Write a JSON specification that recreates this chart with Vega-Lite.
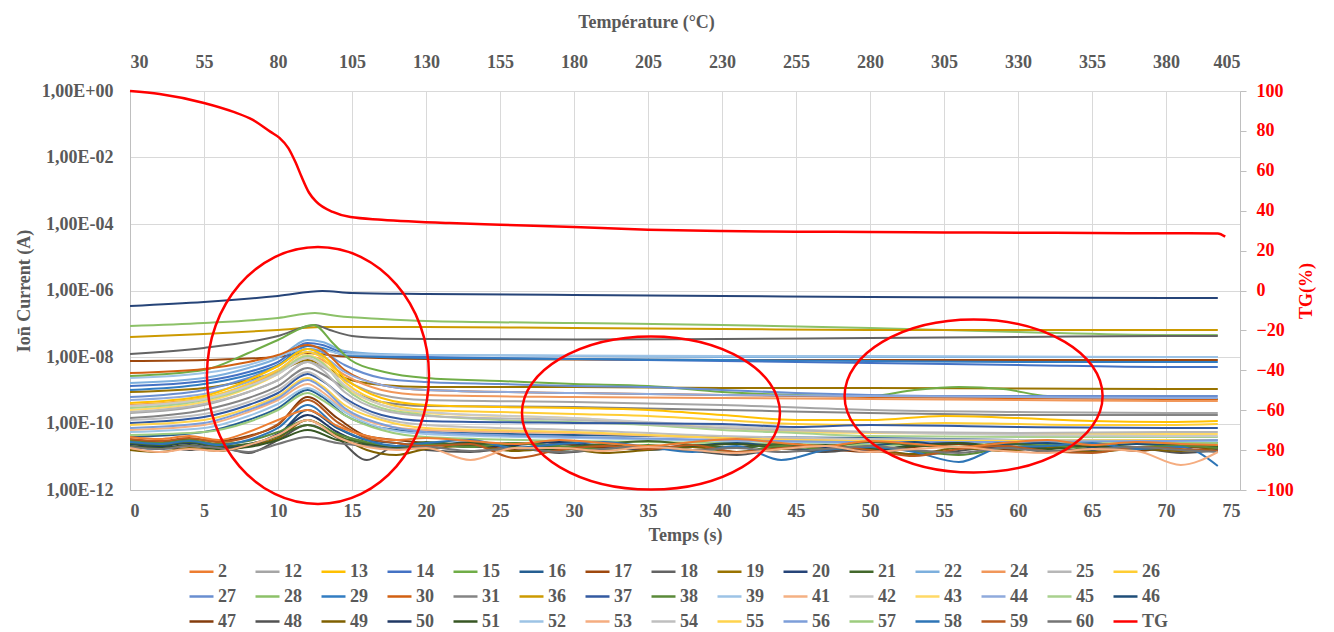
{
"$schema":"https://vega.github.io/schema/vega-lite/v6.json",
"autosize":{"type":"none"},
"width":1110,"height":399,
"padding":{"left":130,"top":91,"right":94,"bottom":142},
"background":"white",
"config":{"font":"Liberation Serif","view":{"stroke":null},
"axis":{"labelFont":"Liberation Serif","labelFontWeight":"bold","labelFontSize":18,"labelColor":"#595959","titleFont":"Liberation Serif","titleFontWeight":"bold","titleFontSize":18,"titleColor":"#595959","gridColor":"#D9D9D9","gridWidth":1,"domainColor":"#BFBFBF","tickColor":"#BFBFBF"}},
"datasets":{
"ions":[
{"s":"20","t":0,"v":3.42e-7},{"s":"20","t":5,"v":4.51e-7},{"s":"20","t":10,"v":6.84e-7},{"s":"20","t":13,"v":9.66e-7},{"s":"20","t":15,"v":8.41e-7},{"s":"20","t":20,"v":7.85e-7},{"s":"20","t":30,"v":7.33e-7},{"s":"20","t":40,"v":6.84e-7},{"s":"20","t":50,"v":6.38e-7},{"s":"20","t":60,"v":6.16e-7},{"s":"20","t":70,"v":5.95e-7},{"s":"20","t":73.5,"v":5.95e-7},
{"s":"28","t":0,"v":8.55e-8},{"s":"28","t":5,"v":1.05e-7},{"s":"28","t":10,"v":1.49e-7},{"s":"28","t":12.5,"v":2.1e-7},{"s":"28","t":14,"v":1.71e-7},{"s":"28","t":17,"v":1.39e-7},{"s":"28","t":20,"v":1.21e-7},{"s":"28","t":30,"v":1.05e-7},{"s":"28","t":40,"v":9.17e-8},{"s":"28","t":50,"v":7.45e-8},{"s":"28","t":60,"v":5.65e-8},{"s":"28","t":70,"v":4.59e-8},{"s":"28","t":73.5,"v":4.59e-8},
{"s":"36","t":0,"v":4.0e-8},{"s":"36","t":5,"v":4.92e-8},{"s":"36","t":10,"v":6.49e-8},{"s":"36","t":13,"v":7.98e-8},{"s":"36","t":20,"v":7.98e-8},{"s":"36","t":30,"v":7.45e-8},{"s":"36","t":40,"v":6.95e-8},{"s":"36","t":50,"v":6.49e-8},{"s":"36","t":60,"v":6.49e-8},{"s":"36","t":70,"v":6.49e-8},{"s":"36","t":73.5,"v":6.49e-8},
{"s":"18","t":0,"v":1.23e-8},{"s":"18","t":5,"v":1.87e-8},{"s":"18","t":10,"v":4.28e-8},{"s":"18","t":12.5,"v":9.17e-8},{"s":"18","t":13.5,"v":6.49e-8},{"s":"18","t":15,"v":4.28e-8},{"s":"18","t":17,"v":3.73e-8},{"s":"18","t":20,"v":3.48e-8},{"s":"18","t":30,"v":3.36e-8},{"s":"18","t":40,"v":3.48e-8},{"s":"18","t":50,"v":3.73e-8},{"s":"18","t":60,"v":4.0e-8},{"s":"18","t":70,"v":4.28e-8},{"s":"18","t":73.5,"v":4.28e-8},
{"s":"17","t":0,"v":7.58e-9},{"s":"17","t":5,"v":8.13e-9},{"s":"17","t":10,"v":1.0e-8},{"s":"17","t":12,"v":1.32e-8},{"s":"17","t":14,"v":1.07e-8},{"s":"17","t":20,"v":8.71e-9},{"s":"17","t":30,"v":8.41e-9},{"s":"17","t":40,"v":8.13e-9},{"s":"17","t":50,"v":8.13e-9},{"s":"17","t":60,"v":8.13e-9},{"s":"17","t":70,"v":8.13e-9},{"s":"17","t":73.5,"v":8.13e-9},
{"s":"22","t":0,"v":1.65e-9},{"s":"22","t":5,"v":2.34e-9},{"s":"22","t":8,"v":4.67e-9},{"s":"22","t":10,"v":9.33e-9},{"s":"22","t":12,"v":3.25e-8},{"s":"22","t":13,"v":2.83e-8},{"s":"22","t":14.5,"v":1.52e-8},{"s":"22","t":17,"v":1.23e-8},{"s":"22","t":20,"v":1.15e-8},{"s":"22","t":30,"v":1.07e-8},{"s":"22","t":40,"v":1.0e-8},{"s":"22","t":50,"v":1.0e-8},{"s":"22","t":60,"v":1.0e-8},{"s":"22","t":70,"v":1.0e-8},{"s":"22","t":73.5,"v":1.0e-8},
{"s":"14","t":0,"v":1.34e-9},{"s":"14","t":5,"v":1.9e-9},{"s":"14","t":8,"v":3.54e-9},{"s":"14","t":10,"v":7.08e-9},{"s":"14","t":12,"v":2.64e-8},{"s":"14","t":13,"v":2.3e-8},{"s":"14","t":14.5,"v":1.32e-8},{"s":"14","t":17,"v":1.07e-8},{"s":"14","t":20,"v":1.0e-8},{"s":"14","t":30,"v":8.71e-9},{"s":"14","t":40,"v":7.58e-9},{"s":"14","t":50,"v":6.61e-9},{"s":"14","t":60,"v":5.75e-9},{"s":"14","t":70,"v":5.0e-9},{"s":"14","t":73.5,"v":5.0e-9},
{"s":"29","t":0,"v":1.02e-9},{"s":"29","t":5,"v":1.54e-9},{"s":"29","t":8,"v":2.88e-9},{"s":"29","t":10,"v":5.75e-9},{"s":"29","t":12,"v":2.14e-8},{"s":"29","t":13,"v":1.87e-8},{"s":"29","t":14.5,"v":1.15e-8},{"s":"29","t":17,"v":1.0e-8},{"s":"29","t":20,"v":9.33e-9},{"s":"29","t":30,"v":8.71e-9},{"s":"29","t":40,"v":8.13e-9},{"s":"29","t":50,"v":7.58e-9},{"s":"29","t":60,"v":7.08e-9},{"s":"29","t":70,"v":7.08e-9},{"s":"29","t":73.5,"v":7.08e-9},
{"s":"39","t":0,"v":2.34e-9},{"s":"39","t":5,"v":3.3e-9},{"s":"39","t":8,"v":5.75e-9},{"s":"39","t":10,"v":1.07e-8},{"s":"39","t":12,"v":1.74e-8},{"s":"39","t":13,"v":1.63e-8},{"s":"39","t":14.5,"v":1.23e-8},{"s":"39","t":20,"v":1.15e-8},{"s":"39","t":30,"v":1.11e-8},{"s":"39","t":40,"v":1.07e-8},{"s":"39","t":50,"v":1.07e-8},{"s":"39","t":60,"v":1.04e-8},{"s":"39","t":70,"v":1.0e-8},{"s":"39","t":73.5,"v":1.0e-8},
{"s":"19","t":0,"v":8.86e-10},{"s":"19","t":5,"v":1.17e-9},{"s":"19","t":8,"v":2.03e-9},{"s":"19","t":10,"v":3.54e-9},{"s":"19","t":12,"v":8.13e-9},{"s":"19","t":13,"v":5.75e-9},{"s":"19","t":14.5,"v":2.34e-9},{"s":"19","t":17,"v":1.44e-9},{"s":"19","t":20,"v":1.25e-9},{"s":"19","t":30,"v":1.25e-9},{"s":"19","t":40,"v":1.17e-9},{"s":"19","t":50,"v":1.17e-9},{"s":"19","t":60,"v":1.13e-9},{"s":"19","t":70,"v":1.09e-9},{"s":"19","t":73.5,"v":1.09e-9},
{"s":"15","t":0,"v":2.69e-9},{"s":"15","t":5,"v":4.07e-9},{"s":"15","t":8,"v":1.32e-8},{"s":"15","t":10,"v":3.25e-8},{"s":"15","t":12.4,"v":9.17e-8},{"s":"15","t":13.7,"v":2.64e-8},{"s":"15","t":14.9,"v":8.13e-9},{"s":"15","t":17.2,"v":3.54e-9},{"s":"15","t":20,"v":2.34e-9},{"s":"15","t":25,"v":1.9e-9},{"s":"15","t":30,"v":1.54e-9},{"s":"15","t":35,"v":1.34e-9},{"s":"15","t":40,"v":8.86e-10},{"s":"15","t":45,"v":7.19e-10},{"s":"15","t":50,"v":6.71e-10},{"s":"15","t":53,"v":1.02e-9},{"s":"15","t":56,"v":1.25e-9},{"s":"15","t":59,"v":1.09e-9},{"s":"15","t":62,"v":6.71e-10},{"s":"15","t":66,"v":6.26e-10},{"s":"15","t":70,"v":5.85e-10},{"s":"15","t":73.5,"v":5.46e-10},
{"s":"27","t":0,"v":6.26e-10},{"s":"27","t":5,"v":1.02e-9},{"s":"27","t":8,"v":2.34e-9},{"s":"27","t":10,"v":5.36e-9},{"s":"27","t":12,"v":1.74e-8},{"s":"27","t":13,"v":1.41e-8},{"s":"27","t":14.5,"v":5.75e-9},{"s":"27","t":17,"v":2.34e-9},{"s":"27","t":20,"v":1.77e-9},{"s":"27","t":25,"v":1.54e-9},{"s":"27","t":30,"v":1.34e-9},{"s":"27","t":35,"v":1.25e-9},{"s":"27","t":40,"v":1.02e-9},{"s":"27","t":45,"v":8.27e-10},{"s":"27","t":50,"v":7.19e-10},{"s":"27","t":55,"v":6.71e-10},{"s":"27","t":60,"v":6.71e-10},{"s":"27","t":65,"v":6.71e-10},{"s":"27","t":70,"v":6.71e-10},{"s":"27","t":73.5,"v":6.71e-10},
{"s":"30","t":0,"v":3.3e-9},{"s":"30","t":5,"v":4.36e-9},{"s":"30","t":8,"v":7.08e-9},{"s":"30","t":10,"v":1.15e-8},{"s":"30","t":12,"v":2.3e-8},{"s":"30","t":13,"v":1.63e-8},{"s":"30","t":14.5,"v":4.07e-9},{"s":"30","t":17,"v":1.44e-9},{"s":"30","t":20,"v":1.02e-9},{"s":"30","t":30,"v":8.27e-10},{"s":"30","t":40,"v":7.19e-10},{"s":"30","t":50,"v":6.26e-10},{"s":"30","t":60,"v":5.85e-10},{"s":"30","t":70,"v":5.46e-10},{"s":"30","t":73.5,"v":5.46e-10},
{"s":"24","t":0,"v":3.6e-10},{"s":"24","t":5,"v":5.85e-10},{"s":"24","t":8,"v":1.44e-9},{"s":"24","t":10,"v":3.54e-9},{"s":"24","t":12,"v":1.07e-8},{"s":"24","t":13,"v":8.13e-9},{"s":"24","t":14.5,"v":2.88e-9},{"s":"24","t":17,"v":1.02e-9},{"s":"24","t":20,"v":7.19e-10},{"s":"24","t":30,"v":6.26e-10},{"s":"24","t":40,"v":5.85e-10},{"s":"24","t":50,"v":5.46e-10},{"s":"24","t":60,"v":5.09e-10},{"s":"24","t":70,"v":4.75e-10},{"s":"24","t":73.5,"v":4.75e-10},
{"s":"44","t":0,"v":5.09e-10},{"s":"44","t":5,"v":7.71e-10},{"s":"44","t":8,"v":1.77e-9},{"s":"44","t":10,"v":4.07e-9},{"s":"44","t":12,"v":1.41e-8},{"s":"44","t":13,"v":1.07e-8},{"s":"44","t":14.5,"v":3.54e-9},{"s":"44","t":17,"v":1.44e-9},{"s":"44","t":20,"v":1.02e-9},{"s":"44","t":30,"v":8.27e-10},{"s":"44","t":40,"v":7.19e-10},{"s":"44","t":50,"v":6.71e-10},{"s":"44","t":60,"v":6.26e-10},{"s":"44","t":70,"v":5.85e-10},{"s":"44","t":73.5,"v":5.85e-10},
{"s":"12","t":0,"v":2.07e-10},{"s":"12","t":5,"v":3.6e-10},{"s":"12","t":8,"v":8.86e-10},{"s":"12","t":10,"v":2.03e-9},{"s":"12","t":12,"v":7.08e-9},{"s":"12","t":13,"v":5.0e-9},{"s":"12","t":14.5,"v":2.03e-9},{"s":"12","t":17,"v":7.19e-10},{"s":"12","t":20,"v":5.09e-10},{"s":"12","t":30,"v":4.43e-10},{"s":"12","t":40,"v":3.6e-10},{"s":"12","t":50,"v":2.55e-10},{"s":"12","t":60,"v":2.22e-10},{"s":"12","t":70,"v":2.07e-10},{"s":"12","t":73.5,"v":2.07e-10},
{"s":"31","t":0,"v":1.46e-10},{"s":"31","t":5,"v":2.55e-10},{"s":"31","t":8,"v":5.85e-10},{"s":"31","t":10,"v":1.34e-9},{"s":"31","t":12,"v":4.67e-9},{"s":"31","t":13,"v":3.08e-9},{"s":"31","t":14.5,"v":1.17e-9},{"s":"31","t":17,"v":4.43e-10},{"s":"31","t":20,"v":3.36e-10},{"s":"31","t":30,"v":3.13e-10},{"s":"31","t":40,"v":2.55e-10},{"s":"31","t":50,"v":2.07e-10},{"s":"31","t":60,"v":1.8e-10},{"s":"31","t":70,"v":1.8e-10},{"s":"31","t":73.5,"v":1.8e-10},
{"s":"13","t":0,"v":4.14e-10},{"s":"13","t":5,"v":6.71e-10},{"s":"13","t":8,"v":2.03e-9},{"s":"13","t":10,"v":5.36e-9},{"s":"13","t":12,"v":1.74e-8},{"s":"13","t":13,"v":1.15e-8},{"s":"13","t":14.5,"v":2.34e-9},{"s":"13","t":17,"v":5.85e-10},{"s":"13","t":20,"v":3.6e-10},{"s":"13","t":25,"v":3.13e-10},{"s":"13","t":30,"v":2.92e-10},{"s":"13","t":35,"v":2.55e-10},{"s":"13","t":40,"v":1.8e-10},{"s":"13","t":45,"v":1.27e-10},{"s":"13","t":50,"v":1.27e-10},{"s":"13","t":55,"v":1.68e-10},{"s":"13","t":60,"v":1.46e-10},{"s":"13","t":65,"v":1.19e-10},{"s":"13","t":70,"v":1.11e-10},{"s":"13","t":73.5,"v":1.19e-10},
{"s":"26","t":0,"v":3.36e-10},{"s":"26","t":5,"v":5.85e-10},{"s":"26","t":8,"v":1.54e-9},{"s":"26","t":10,"v":4.07e-9},{"s":"26","t":12,"v":1.41e-8},{"s":"26","t":13,"v":9.33e-9},{"s":"26","t":14.5,"v":1.77e-9},{"s":"26","t":17,"v":4.43e-10},{"s":"26","t":20,"v":2.55e-10},{"s":"26","t":25,"v":2.22e-10},{"s":"26","t":30,"v":1.93e-10},{"s":"26","t":35,"v":1.68e-10},{"s":"26","t":40,"v":1.27e-10},{"s":"26","t":45,"v":9.66e-11},{"s":"26","t":50,"v":9.02e-11},{"s":"26","t":55,"v":1.04e-10},{"s":"26","t":60,"v":9.66e-11},{"s":"26","t":65,"v":9.02e-11},{"s":"26","t":70,"v":9.02e-11},{"s":"26","t":73.5,"v":9.66e-11},
{"s":"43","t":0,"v":2.55e-10},{"s":"43","t":5,"v":4.43e-10},{"s":"43","t":8,"v":1.17e-9},{"s":"43","t":10,"v":3.08e-9},{"s":"43","t":12,"v":1.15e-8},{"s":"43","t":13,"v":7.08e-9},{"s":"43","t":14.5,"v":1.34e-9},{"s":"43","t":17,"v":3.6e-10},{"s":"43","t":20,"v":2.07e-10},{"s":"43","t":30,"v":1.46e-10},{"s":"43","t":40,"v":7.33e-11},{"s":"43","t":45,"v":5.55e-11},{"s":"43","t":50,"v":5.18e-11},{"s":"43","t":60,"v":4.83e-11},{"s":"43","t":70,"v":4.83e-11},{"s":"43","t":73.5,"v":4.83e-11},
{"s":"45","t":0,"v":2.92e-10},{"s":"45","t":5,"v":5.09e-10},{"s":"45","t":8,"v":1.25e-9},{"s":"45","t":10,"v":3.3e-9},{"s":"45","t":12,"v":1.07e-8},{"s":"45","t":13,"v":6.61e-9},{"s":"45","t":14.5,"v":1.17e-9},{"s":"45","t":17,"v":2.92e-10},{"s":"45","t":20,"v":1.8e-10},{"s":"45","t":25,"v":1.27e-10},{"s":"45","t":30,"v":1.11e-10},{"s":"45","t":35,"v":9.02e-11},{"s":"45","t":40,"v":6.38e-11},{"s":"45","t":45,"v":5.18e-11},{"s":"45","t":50,"v":4.21e-11},{"s":"45","t":60,"v":3.93e-11},{"s":"45","t":70,"v":3.93e-11},{"s":"45","t":73.5,"v":3.93e-11},
{"s":"42","t":0,"v":3.36e-10},{"s":"42","t":5,"v":5.46e-10},{"s":"42","t":8,"v":1.34e-9},{"s":"42","t":10,"v":3.08e-9},{"s":"42","t":12,"v":9.33e-9},{"s":"42","t":13,"v":5.75e-9},{"s":"42","t":14.5,"v":1.44e-9},{"s":"42","t":17,"v":3.6e-10},{"s":"42","t":20,"v":2.22e-10},{"s":"42","t":30,"v":1.46e-10},{"s":"42","t":40,"v":8.41e-11},{"s":"42","t":50,"v":5.55e-11},{"s":"42","t":60,"v":4.51e-11},{"s":"42","t":70,"v":4.21e-11},{"s":"42","t":73.5,"v":4.21e-11},
{"s":"25","t":0,"v":2.22e-10},{"s":"25","t":5,"v":3.86e-10},{"s":"25","t":8,"v":8.86e-10},{"s":"25","t":10,"v":2.03e-9},{"s":"25","t":12,"v":7.08e-9},{"s":"25","t":13,"v":4.07e-9},{"s":"25","t":14.5,"v":8.86e-10},{"s":"25","t":17,"v":2.55e-10},{"s":"25","t":20,"v":1.68e-10},{"s":"25","t":30,"v":1.27e-10},{"s":"25","t":40,"v":7.33e-11},{"s":"25","t":50,"v":5.55e-11},{"s":"25","t":60,"v":5.18e-11},{"s":"25","t":70,"v":5.55e-11},{"s":"25","t":73.5,"v":5.55e-11},
{"s":"37","t":0,"v":1.04e-10},{"s":"37","t":5,"v":1.57e-10},{"s":"37","t":8,"v":3.6e-10},{"s":"37","t":10,"v":8.27e-10},{"s":"37","t":12,"v":3.08e-9},{"s":"37","t":13,"v":1.9e-9},{"s":"37","t":14.5,"v":5.85e-10},{"s":"37","t":17,"v":1.8e-10},{"s":"37","t":20,"v":1.19e-10},{"s":"37","t":30,"v":1.04e-10},{"s":"37","t":40,"v":9.66e-11},{"s":"37","t":45,"v":7.85e-11},{"s":"37","t":50,"v":9.02e-11},{"s":"37","t":60,"v":7.85e-11},{"s":"37","t":70,"v":7.33e-11},{"s":"37","t":73.5,"v":7.33e-11},
{"s":"16","t":0,"v":3.93e-11},{"s":"16","t":5,"v":5.55e-11},{"s":"16","t":8,"v":1.27e-10},{"s":"16","t":10,"v":2.92e-10},{"s":"16","t":12,"v":1.02e-9},{"s":"16","t":13,"v":6.26e-10},{"s":"16","t":14.5,"v":1.8e-10},{"s":"16","t":17,"v":7.33e-11},{"s":"16","t":20,"v":5.55e-11},{"s":"16","t":30,"v":4.51e-11},{"s":"16","t":40,"v":3.93e-11},{"s":"16","t":50,"v":3.66e-11},{"s":"16","t":60,"v":3.19e-11},{"s":"16","t":70,"v":2.98e-11},{"s":"16","t":73.5,"v":2.59e-11},
{"s":"41","t":0,"v":6.38e-11},{"s":"41","t":5,"v":9.02e-11},{"s":"41","t":8,"v":2.22e-10},{"s":"41","t":10,"v":5.09e-10},{"s":"41","t":12,"v":1.54e-9},{"s":"41","t":13,"v":8.86e-10},{"s":"41","t":14.5,"v":2.55e-10},{"s":"41","t":17,"v":9.02e-11},{"s":"41","t":20,"v":6.38e-11},{"s":"41","t":30,"v":5.18e-11},{"s":"41","t":40,"v":3.66e-11},{"s":"41","t":50,"v":2.98e-11},{"s":"41","t":60,"v":2.59e-11},{"s":"41","t":70,"v":2.42e-11},{"s":"41","t":73.5,"v":2.42e-11},
{"s":"54","t":0,"v":1.27e-10},{"s":"54","t":5,"v":1.93e-10},{"s":"54","t":8,"v":4.43e-10},{"s":"54","t":10,"v":1.02e-9},{"s":"54","t":12,"v":3.54e-9},{"s":"54","t":13,"v":2.03e-9},{"s":"54","t":14.5,"v":5.09e-10},{"s":"54","t":17,"v":1.46e-10},{"s":"54","t":20,"v":9.02e-11},{"s":"54","t":30,"v":6.38e-11},{"s":"54","t":40,"v":4.21e-11},{"s":"54","t":50,"v":3.42e-11},{"s":"54","t":60,"v":3.19e-11},{"s":"54","t":70,"v":3.19e-11},{"s":"54","t":73.5,"v":3.19e-11},
{"s":"55","t":0,"v":9.02e-11},{"s":"55","t":5,"v":1.27e-10},{"s":"55","t":8,"v":2.92e-10},{"s":"55","t":10,"v":6.71e-10},{"s":"55","t":12,"v":2.34e-9},{"s":"55","t":13,"v":1.34e-9},{"s":"55","t":14.5,"v":3.6e-10},{"s":"55","t":17,"v":1.27e-10},{"s":"55","t":20,"v":7.33e-11},{"s":"55","t":30,"v":5.55e-11},{"s":"55","t":40,"v":3.66e-11},{"s":"55","t":50,"v":2.98e-11},{"s":"55","t":60,"v":2.98e-11},{"s":"55","t":70,"v":3.19e-11},{"s":"55","t":73.5,"v":3.19e-11},
{"s":"52","t":0,"v":5.55e-11},{"s":"52","t":5,"v":7.33e-11},{"s":"52","t":8,"v":1.68e-10},{"s":"52","t":10,"v":3.86e-10},{"s":"52","t":12,"v":1.17e-9},{"s":"52","t":13,"v":7.19e-10},{"s":"52","t":14.5,"v":2.22e-10},{"s":"52","t":17,"v":7.33e-11},{"s":"52","t":20,"v":4.83e-11},{"s":"52","t":30,"v":3.66e-11},{"s":"52","t":40,"v":2.98e-11},{"s":"52","t":50,"v":2.59e-11},{"s":"52","t":60,"v":2.78e-11},{"s":"52","t":70,"v":2.98e-11},{"s":"52","t":73.5,"v":2.98e-11},
{"s":"56","t":0,"v":7.33e-11},{"s":"56","t":5,"v":1.04e-10},{"s":"56","t":8,"v":2.55e-10},{"s":"56","t":10,"v":5.85e-10},{"s":"56","t":12,"v":2.03e-9},{"s":"56","t":13,"v":1.17e-9},{"s":"56","t":14.5,"v":2.92e-10},{"s":"56","t":17,"v":9.66e-11},{"s":"56","t":20,"v":5.55e-11},{"s":"56","t":30,"v":3.93e-11},{"s":"56","t":40,"v":3.19e-11},{"s":"56","t":50,"v":2.78e-11},{"s":"56","t":60,"v":2.78e-11},{"s":"56","t":70,"v":2.98e-11},{"s":"56","t":73.5,"v":3.19e-11},
{"s":"57","t":0,"v":4.51e-11},{"s":"57","t":5,"v":5.55e-11},{"s":"57","t":8,"v":1.11e-10},{"s":"57","t":10,"v":2.55e-10},{"s":"57","t":12,"v":8.27e-10},{"s":"57","t":13,"v":5.09e-10},{"s":"57","t":14.5,"v":1.8e-10},{"s":"57","t":17,"v":6.38e-11},{"s":"57","t":20,"v":3.93e-11},{"s":"57","t":30,"v":2.98e-11},{"s":"57","t":40,"v":2.59e-11},{"s":"57","t":50,"v":2.26e-11},{"s":"57","t":60,"v":2.42e-11},{"s":"57","t":70,"v":2.59e-11},{"s":"57","t":73.5,"v":2.59e-11},
{"s":"46","t":0,"v":1.96e-11},{"s":"46","t":2,"v":1.71e-11},{"s":"46","t":4,"v":2.1e-11},{"s":"46","t":6,"v":1.83e-11},{"s":"46","t":8,"v":2.42e-11},{"s":"46","t":10,"v":4.51e-11},{"s":"46","t":12,"v":2.55e-10},{"s":"46","t":14,"v":7.33e-11},{"s":"46","t":16,"v":3.19e-11},{"s":"46","t":18,"v":2.59e-11},{"s":"46","t":20,"v":2.1e-11},{"s":"46","t":23,"v":2.78e-11},{"s":"46","t":26,"v":1.83e-11},{"s":"46","t":29,"v":2.42e-11},{"s":"46","t":32,"v":1.96e-11},{"s":"46","t":35,"v":1.6e-11},{"s":"46","t":38,"v":2.1e-11},{"s":"46","t":41,"v":2.59e-11},{"s":"46","t":44,"v":1.96e-11},{"s":"46","t":47,"v":1.49e-11},{"s":"46","t":50,"v":2.1e-11},{"s":"46","t":53,"v":2.78e-11},{"s":"46","t":56,"v":1.83e-11},{"s":"46","t":59,"v":2.26e-11},{"s":"46","t":62,"v":2.59e-11},{"s":"46","t":65,"v":1.96e-11},{"s":"46","t":68,"v":2.42e-11},{"s":"46","t":71,"v":2.1e-11},{"s":"46","t":73.5,"v":1.83e-11},
{"s":"47","t":0,"v":3.19e-11},{"s":"47","t":2,"v":2.78e-11},{"s":"47","t":4,"v":3.42e-11},{"s":"47","t":6,"v":2.98e-11},{"s":"47","t":8,"v":4.21e-11},{"s":"47","t":10,"v":9.02e-11},{"s":"47","t":12,"v":6.26e-10},{"s":"47","t":14,"v":1.46e-10},{"s":"47","t":16,"v":4.21e-11},{"s":"47","t":18,"v":3.19e-11},{"s":"47","t":20,"v":2.59e-11},{"s":"47","t":23,"v":2.1e-11},{"s":"47","t":26,"v":1.71e-11},{"s":"47","t":29,"v":2.42e-11},{"s":"47","t":32,"v":1.83e-11},{"s":"47","t":35,"v":2.1e-11},{"s":"47","t":38,"v":1.6e-11},{"s":"47","t":41,"v":1.96e-11},{"s":"47","t":44,"v":2.26e-11},{"s":"47","t":47,"v":1.71e-11},{"s":"47","t":50,"v":1.39e-11},{"s":"47","t":53,"v":1.96e-11},{"s":"47","t":56,"v":2.42e-11},{"s":"47","t":59,"v":1.6e-11},{"s":"47","t":62,"v":1.83e-11},{"s":"47","t":65,"v":2.1e-11},{"s":"47","t":68,"v":1.49e-11},{"s":"47","t":71,"v":1.96e-11},{"s":"47","t":73.5,"v":1.71e-11},
{"s":"48","t":0,"v":1.83e-11},{"s":"48","t":2,"v":2.1e-11},{"s":"48","t":4,"v":1.6e-11},{"s":"48","t":6,"v":1.96e-11},{"s":"48","t":8,"v":1.3e-11},{"s":"48","t":10,"v":3.19e-11},{"s":"48","t":12,"v":9.02e-11},{"s":"48","t":14,"v":3.66e-11},{"s":"48","t":16,"v":7.98e-12},{"s":"48","t":18,"v":2.1e-11},{"s":"48","t":20,"v":1.6e-11},{"s":"48","t":23,"v":1.39e-11},{"s":"48","t":26,"v":1.83e-11},{"s":"48","t":29,"v":1.3e-11},{"s":"48","t":32,"v":1.71e-11},{"s":"48","t":35,"v":1.96e-11},{"s":"48","t":38,"v":1.49e-11},{"s":"48","t":41,"v":1.13e-11},{"s":"48","t":44,"v":1.71e-11},{"s":"48","t":47,"v":1.39e-11},{"s":"48","t":50,"v":1.83e-11},{"s":"48","t":53,"v":1.13e-11},{"s":"48","t":56,"v":1.49e-11},{"s":"48","t":59,"v":2.1e-11},{"s":"48","t":62,"v":1.39e-11},{"s":"48","t":65,"v":1.6e-11},{"s":"48","t":68,"v":1.83e-11},{"s":"48","t":71,"v":1.3e-11},{"s":"48","t":73.5,"v":1.6e-11},
{"s":"49","t":0,"v":1.6e-11},{"s":"49","t":2,"v":1.39e-11},{"s":"49","t":4,"v":1.83e-11},{"s":"49","t":6,"v":1.49e-11},{"s":"49","t":8,"v":2.1e-11},{"s":"49","t":10,"v":3.66e-11},{"s":"49","t":12,"v":1.27e-10},{"s":"49","t":14,"v":4.51e-11},{"s":"49","t":16,"v":1.6e-11},{"s":"49","t":18,"v":1.13e-11},{"s":"49","t":20,"v":1.71e-11},{"s":"49","t":23,"v":2.1e-11},{"s":"49","t":26,"v":1.49e-11},{"s":"49","t":29,"v":1.83e-11},{"s":"49","t":32,"v":1.3e-11},{"s":"49","t":35,"v":1.6e-11},{"s":"49","t":38,"v":1.96e-11},{"s":"49","t":41,"v":1.39e-11},{"s":"49","t":44,"v":1.71e-11},{"s":"49","t":47,"v":2.1e-11},{"s":"49","t":50,"v":1.6e-11},{"s":"49","t":53,"v":1.21e-11},{"s":"49","t":56,"v":1.83e-11},{"s":"49","t":59,"v":1.49e-11},{"s":"49","t":62,"v":1.96e-11},{"s":"49","t":65,"v":1.39e-11},{"s":"49","t":68,"v":1.71e-11},{"s":"49","t":71,"v":1.49e-11},{"s":"49","t":73.5,"v":1.83e-11},
{"s":"50","t":0,"v":2.42e-11},{"s":"50","t":2,"v":2.1e-11},{"s":"50","t":4,"v":2.59e-11},{"s":"50","t":6,"v":1.96e-11},{"s":"50","t":8,"v":2.26e-11},{"s":"50","t":10,"v":4.83e-11},{"s":"50","t":12,"v":1.8e-10},{"s":"50","t":14,"v":5.55e-11},{"s":"50","t":16,"v":2.42e-11},{"s":"50","t":18,"v":1.96e-11},{"s":"50","t":20,"v":2.59e-11},{"s":"50","t":23,"v":1.96e-11},{"s":"50","t":26,"v":2.26e-11},{"s":"50","t":29,"v":2.78e-11},{"s":"50","t":32,"v":2.1e-11},{"s":"50","t":35,"v":1.71e-11},{"s":"50","t":38,"v":2.26e-11},{"s":"50","t":41,"v":1.83e-11},{"s":"50","t":44,"v":2.42e-11},{"s":"50","t":47,"v":1.96e-11},{"s":"50","t":50,"v":1.49e-11},{"s":"50","t":53,"v":2.26e-11},{"s":"50","t":56,"v":2.59e-11},{"s":"50","t":59,"v":1.83e-11},{"s":"50","t":62,"v":2.1e-11},{"s":"50","t":65,"v":2.42e-11},{"s":"50","t":68,"v":1.83e-11},{"s":"50","t":71,"v":2.26e-11},{"s":"50","t":73.5,"v":1.96e-11},
{"s":"51","t":0,"v":2.1e-11},{"s":"51","t":2,"v":1.83e-11},{"s":"51","t":4,"v":2.26e-11},{"s":"51","t":6,"v":1.71e-11},{"s":"51","t":8,"v":1.96e-11},{"s":"51","t":10,"v":3.19e-11},{"s":"51","t":12,"v":6.38e-11},{"s":"51","t":14,"v":3.19e-11},{"s":"51","t":16,"v":2.26e-11},{"s":"51","t":18,"v":1.83e-11},{"s":"51","t":20,"v":2.1e-11},{"s":"51","t":23,"v":2.59e-11},{"s":"51","t":26,"v":1.96e-11},{"s":"51","t":29,"v":1.6e-11},{"s":"51","t":32,"v":2.26e-11},{"s":"51","t":35,"v":1.83e-11},{"s":"51","t":38,"v":2.1e-11},{"s":"51","t":41,"v":2.42e-11},{"s":"51","t":44,"v":1.83e-11},{"s":"51","t":47,"v":2.26e-11},{"s":"51","t":50,"v":1.71e-11},{"s":"51","t":53,"v":2.1e-11},{"s":"51","t":56,"v":2.59e-11},{"s":"51","t":59,"v":1.96e-11},{"s":"51","t":62,"v":1.71e-11},{"s":"51","t":65,"v":2.1e-11},{"s":"51","t":68,"v":1.83e-11},{"s":"51","t":71,"v":2.26e-11},{"s":"51","t":73.5,"v":1.96e-11},
{"s":"21","t":0,"v":2.59e-11},{"s":"21","t":2,"v":2.26e-11},{"s":"21","t":4,"v":2.78e-11},{"s":"21","t":6,"v":2.1e-11},{"s":"21","t":8,"v":2.42e-11},{"s":"21","t":10,"v":4.21e-11},{"s":"21","t":12,"v":9.02e-11},{"s":"21","t":14,"v":3.93e-11},{"s":"21","t":16,"v":2.59e-11},{"s":"21","t":18,"v":2.1e-11},{"s":"21","t":20,"v":2.78e-11},{"s":"21","t":23,"v":2.26e-11},{"s":"21","t":26,"v":2.59e-11},{"s":"21","t":29,"v":1.96e-11},{"s":"21","t":32,"v":2.42e-11},{"s":"21","t":35,"v":2.98e-11},{"s":"21","t":38,"v":2.26e-11},{"s":"21","t":41,"v":1.83e-11},{"s":"21","t":44,"v":2.42e-11},{"s":"21","t":47,"v":2.1e-11},{"s":"21","t":50,"v":2.78e-11},{"s":"21","t":53,"v":2.26e-11},{"s":"21","t":56,"v":1.83e-11},{"s":"21","t":59,"v":2.59e-11},{"s":"21","t":62,"v":2.1e-11},{"s":"21","t":65,"v":2.42e-11},{"s":"21","t":68,"v":1.96e-11},{"s":"21","t":71,"v":2.26e-11},{"s":"21","t":73.5,"v":2.1e-11},
{"s":"38","t":0,"v":2.98e-11},{"s":"38","t":2,"v":2.59e-11},{"s":"38","t":4,"v":3.19e-11},{"s":"38","t":6,"v":2.42e-11},{"s":"38","t":8,"v":2.98e-11},{"s":"38","t":10,"v":5.55e-11},{"s":"38","t":12,"v":1.27e-10},{"s":"38","t":14,"v":4.83e-11},{"s":"38","t":16,"v":2.78e-11},{"s":"38","t":18,"v":2.1e-11},{"s":"38","t":20,"v":2.42e-11},{"s":"38","t":23,"v":1.96e-11},{"s":"38","t":26,"v":2.59e-11},{"s":"38","t":29,"v":2.1e-11},{"s":"38","t":32,"v":1.71e-11},{"s":"38","t":35,"v":2.26e-11},{"s":"38","t":38,"v":1.6e-11},{"s":"38","t":41,"v":1.39e-11},{"s":"38","t":44,"v":2.1e-11},{"s":"38","t":47,"v":1.71e-11},{"s":"38","t":50,"v":1.96e-11},{"s":"38","t":53,"v":1.49e-11},{"s":"38","t":56,"v":1.13e-11},{"s":"38","t":59,"v":1.83e-11},{"s":"38","t":62,"v":2.26e-11},{"s":"38","t":65,"v":1.71e-11},{"s":"38","t":68,"v":1.96e-11},{"s":"38","t":71,"v":2.1e-11},{"s":"38","t":73.5,"v":1.83e-11},
{"s":"58","t":0,"v":2.78e-11},{"s":"58","t":2,"v":2.42e-11},{"s":"58","t":4,"v":2.98e-11},{"s":"58","t":6,"v":2.26e-11},{"s":"58","t":8,"v":3.19e-11},{"s":"58","t":10,"v":7.33e-11},{"s":"58","t":12,"v":3.6e-10},{"s":"58","t":14,"v":7.85e-11},{"s":"58","t":16,"v":3.19e-11},{"s":"58","t":18,"v":2.1e-11},{"s":"58","t":20,"v":2.59e-11},{"s":"58","t":23,"v":3.19e-11},{"s":"58","t":26,"v":1.83e-11},{"s":"58","t":29,"v":2.42e-11},{"s":"58","t":32,"v":2.78e-11},{"s":"58","t":35,"v":1.96e-11},{"s":"58","t":38,"v":1.39e-11},{"s":"58","t":41,"v":2.1e-11},{"s":"58","t":44,"v":7.98e-12},{"s":"58","t":47,"v":1.6e-11},{"s":"58","t":50,"v":1.96e-11},{"s":"58","t":53,"v":1.39e-11},{"s":"58","t":56,"v":6.95e-12},{"s":"58","t":59,"v":1.96e-11},{"s":"58","t":62,"v":2.1e-11},{"s":"58","t":65,"v":2.59e-11},{"s":"58","t":68,"v":1.71e-11},{"s":"58","t":71,"v":1.96e-11},{"s":"58","t":73.5,"v":5.27e-12},
{"s":"59","t":0,"v":3.42e-11},{"s":"59","t":2,"v":2.98e-11},{"s":"59","t":4,"v":3.66e-11},{"s":"59","t":6,"v":2.78e-11},{"s":"59","t":8,"v":3.93e-11},{"s":"59","t":10,"v":9.66e-11},{"s":"59","t":12,"v":5.09e-10},{"s":"59","t":14,"v":1.11e-10},{"s":"59","t":16,"v":3.66e-11},{"s":"59","t":18,"v":2.59e-11},{"s":"59","t":20,"v":2.1e-11},{"s":"59","t":23,"v":2.42e-11},{"s":"59","t":26,"v":9.17e-12},{"s":"59","t":29,"v":1.6e-11},{"s":"59","t":32,"v":2.1e-11},{"s":"59","t":35,"v":1.71e-11},{"s":"59","t":38,"v":2.26e-11},{"s":"59","t":41,"v":1.39e-11},{"s":"59","t":44,"v":1.83e-11},{"s":"59","t":47,"v":2.1e-11},{"s":"59","t":50,"v":1.6e-11},{"s":"59","t":53,"v":1.05e-11},{"s":"59","t":56,"v":1.71e-11},{"s":"59","t":59,"v":2.1e-11},{"s":"59","t":62,"v":1.49e-11},{"s":"59","t":65,"v":1.3e-11},{"s":"59","t":68,"v":1.96e-11},{"s":"59","t":71,"v":1.71e-11},{"s":"59","t":73.5,"v":1.49e-11},
{"s":"60","t":0,"v":1.96e-11},{"s":"60","t":2,"v":1.71e-11},{"s":"60","t":4,"v":2.1e-11},{"s":"60","t":6,"v":1.83e-11},{"s":"60","t":8,"v":1.39e-11},{"s":"60","t":10,"v":2.42e-11},{"s":"60","t":12,"v":3.93e-11},{"s":"60","t":14,"v":2.59e-11},{"s":"60","t":16,"v":2.1e-11},{"s":"60","t":18,"v":1.71e-11},{"s":"60","t":20,"v":1.96e-11},{"s":"60","t":23,"v":1.49e-11},{"s":"60","t":26,"v":1.83e-11},{"s":"60","t":29,"v":1.39e-11},{"s":"60","t":32,"v":1.71e-11},{"s":"60","t":35,"v":2.1e-11},{"s":"60","t":38,"v":1.6e-11},{"s":"60","t":41,"v":1.83e-11},{"s":"60","t":44,"v":1.39e-11},{"s":"60","t":47,"v":1.71e-11},{"s":"60","t":50,"v":2.1e-11},{"s":"60","t":53,"v":1.6e-11},{"s":"60","t":56,"v":1.3e-11},{"s":"60","t":59,"v":1.83e-11},{"s":"60","t":62,"v":1.49e-11},{"s":"60","t":65,"v":1.71e-11},{"s":"60","t":68,"v":1.96e-11},{"s":"60","t":71,"v":1.6e-11},{"s":"60","t":73.5,"v":1.39e-11},
{"s":"2","t":0,"v":3.93e-11},{"s":"2","t":2,"v":3.42e-11},{"s":"2","t":4,"v":4.21e-11},{"s":"2","t":6,"v":3.19e-11},{"s":"2","t":8,"v":5.55e-11},{"s":"2","t":10,"v":1.27e-10},{"s":"2","t":12,"v":2.55e-10},{"s":"2","t":14,"v":8.41e-11},{"s":"2","t":16,"v":4.21e-11},{"s":"2","t":18,"v":3.19e-11},{"s":"2","t":20,"v":3.66e-11},{"s":"2","t":23,"v":2.98e-11},{"s":"2","t":26,"v":2.42e-11},{"s":"2","t":29,"v":3.19e-11},{"s":"2","t":32,"v":2.59e-11},{"s":"2","t":35,"v":2.1e-11},{"s":"2","t":38,"v":2.78e-11},{"s":"2","t":41,"v":3.42e-11},{"s":"2","t":44,"v":2.59e-11},{"s":"2","t":47,"v":2.1e-11},{"s":"2","t":50,"v":2.98e-11},{"s":"2","t":53,"v":2.42e-11},{"s":"2","t":56,"v":1.96e-11},{"s":"2","t":59,"v":2.59e-11},{"s":"2","t":62,"v":3.19e-11},{"s":"2","t":65,"v":2.26e-11},{"s":"2","t":68,"v":2.78e-11},{"s":"2","t":71,"v":2.42e-11},{"s":"2","t":73.5,"v":2.26e-11},
{"s":"53","t":0,"v":1.83e-11},{"s":"53","t":2,"v":1.39e-11},{"s":"53","t":4,"v":1.71e-11},{"s":"53","t":6,"v":1.49e-11},{"s":"53","t":8,"v":2.26e-11},{"s":"53","t":10,"v":4.51e-11},{"s":"53","t":12,"v":1.27e-10},{"s":"53","t":14,"v":3.93e-11},{"s":"53","t":16,"v":1.96e-11},{"s":"53","t":18,"v":1.6e-11},{"s":"53","t":20,"v":1.83e-11},{"s":"53","t":23,"v":7.98e-12},{"s":"53","t":26,"v":1.83e-11},{"s":"53","t":29,"v":1.83e-11},{"s":"53","t":32,"v":1.49e-11},{"s":"53","t":35,"v":1.96e-11},{"s":"53","t":38,"v":1.6e-11},{"s":"53","t":41,"v":1.3e-11},{"s":"53","t":44,"v":1.71e-11},{"s":"53","t":47,"v":2.1e-11},{"s":"53","t":50,"v":1.39e-11},{"s":"53","t":53,"v":1.71e-11},{"s":"53","t":56,"v":1.96e-11},{"s":"53","t":59,"v":1.49e-11},{"s":"53","t":62,"v":1.3e-11},{"s":"53","t":65,"v":1.71e-11},{"s":"53","t":68,"v":1.49e-11},{"s":"53","t":71,"v":5.65e-12},{"s":"53","t":73.5,"v":1.39e-11}
],
"tg":[
{"s":"TG","t":0,"tg":100},{"s":"TG","t":2,"tg":98.5},{"s":"TG","t":5,"tg":94},{"s":"TG","t":7,"tg":89.5},{"s":"TG","t":8.3,"tg":85.5},{"s":"TG","t":9.5,"tg":79.5},{"s":"TG","t":10.1,"tg":76.5},{"s":"TG","t":10.7,"tg":71.4},{"s":"TG","t":11.2,"tg":64},{"s":"TG","t":11.6,"tg":56.9},{"s":"TG","t":12.1,"tg":49},{"s":"TG","t":12.6,"tg":44.4},{"s":"TG","t":13.7,"tg":39.4},{"s":"TG","t":14.9,"tg":36.8},{"s":"TG","t":17,"tg":35.5},{"s":"TG","t":21.6,"tg":33.8},{"s":"TG","t":25,"tg":33},{"s":"TG","t":30,"tg":31.8},{"s":"TG","t":35,"tg":30.5},{"s":"TG","t":40,"tg":29.8},{"s":"TG","t":45,"tg":29.5},{"s":"TG","t":50,"tg":29.3},{"s":"TG","t":55,"tg":29.1},{"s":"TG","t":60,"tg":29},{"s":"TG","t":65,"tg":28.8},{"s":"TG","t":70,"tg":28.7},{"s":"TG","t":73.5,"tg":28.6},{"s":"TG","t":74,"tg":27}
],
"ell1":[{"t":12.7,"v":2.78e-9}],
"ell2":[{"t":35.2,"v":2.07e-10},{"t":57.0,"v":6.71e-10}]
},
"layer":[
{"data":{"name":"ions"},
"mark":{"type":"line","strokeWidth":2,"interpolate":"monotone","clip":true},
"encoding":{
"x":{"field":"t","type":"quantitative","scale":{"domain":[0,75],"nice":false},
"axis":{"orient":"bottom","values":[0,5,10,15,20,25,30,35,40,45,50,55,60,65,70,75],"title":"Temps (s)","grid":true,"ticks":false,"labelPadding":12,"titlePadding":6}},
"y":{"field":"v","type":"quantitative","scale":{"type":"log","domain":[1e-12,1],"nice":false},
"axis":{"orient":"left","values":[1e-12,1e-10,1e-8,1e-6,1e-4,1e-2,1],"labelExpr":"datum.value >= 1 ? '1,00E+00' : '1,00E-' + pad(format(round(-log(datum.value)/LN10),'d'), 2, '0', 'left')","title":"Ion\u0304 Current (A)","grid":true,"ticks":false,"labelPadding":17,"titlePadding":8}},
"color":{"field":"s","type":"nominal",
"scale":{"domain":["2","12","13","14","15","16","17","18","19","20","21","22","24","25","26","27","28","29","30","31","36","37","38","39","41","42","43","44","45","46","47","48","49","50","51","52","53","54","55","56","57","58","59","60","TG"],
"range":["#ED7D31","#A5A5A5","#FFC000","#4472C4","#70AD47","#255E91","#9E480E","#636363","#997300","#264478","#43682B","#7CAFDD","#F1975A","#B7B7B7","#FFCD33","#698ED0","#8CC168","#327DC2","#D26012","#848484","#CC9A00","#335AA1","#5A8A39","#9DC3E6","#F4B183","#C9C9C9","#FFD966","#8FAADC","#A9D18E","#1F4E79","#843C0C","#525252","#7F6000","#203864","#375623","#9CC3E5","#F5AD80","#BFBFBF","#FFD34D","#7D9ED9","#9DCC7E","#2E75B6","#B85A1F","#757575","#FF0000"]},
"legend":{"orient":"none","legendX":58,"legendY":467,"direction":"horizontal","columns":15,"symbolLimit":100,"title":null,"symbolType":"stroke","symbolSize":576,"symbolStrokeWidth":2.5,"labelFont":"Liberation Serif","labelFontWeight":"bold","labelFontSize":18,"labelColor":"#595959","columnPadding":14,"rowPadding":2,"labelOffset":3,"padding":0}}
}},
{"data":{"name":"tg"},
"mark":{"type":"line","strokeWidth":2.5,"interpolate":"monotone"},
"encoding":{
"x":{"field":"t","type":"quantitative",
"axis":{"orient":"top","values":[0,5,10,15,20,25,30,35,40,45,50,55,60,65,70,75],"labelExpr":"format(datum.value*5+30,'d')","title":"Température (°C)","titleX":516,"grid":false,"ticks":false,"domain":false,"labelPadding":20,"titlePadding":22}},
"y":{"field":"tg","type":"quantitative","scale":{"domain":[-100,100],"nice":false},
"axis":{"orient":"right","values":[-100,-80,-60,-40,-20,0,20,40,60,80,100],"title":"TG(%)","titleAngle":270,"titleColor":"#FF0000","labelColor":"#FF0000","grid":false,"ticks":true,"tickSize":6,"labelPadding":10,"titlePadding":22}},
"color":{"field":"s","type":"nominal",
"scale":{"domain":["2","12","13","14","15","16","17","18","19","20","21","22","24","25","26","27","28","29","30","31","36","37","38","39","41","42","43","44","45","46","47","48","49","50","51","52","53","54","55","56","57","58","59","60","TG"],
"range":["#ED7D31","#A5A5A5","#FFC000","#4472C4","#70AD47","#255E91","#9E480E","#636363","#997300","#264478","#43682B","#7CAFDD","#F1975A","#B7B7B7","#FFCD33","#698ED0","#8CC168","#327DC2","#D26012","#848484","#CC9A00","#335AA1","#5A8A39","#9DC3E6","#F4B183","#C9C9C9","#FFD966","#8FAADC","#A9D18E","#1F4E79","#843C0C","#525252","#7F6000","#203864","#375623","#9CC3E5","#F5AD80","#BFBFBF","#FFD34D","#7D9ED9","#9DCC7E","#2E75B6","#B85A1F","#757575","#FF0000"]}}
}},
{"data":{"name":"ell1"},
"mark":{"type":"point","shape":"M -0.864 0 A 0.864 1 0 1 0 0.864 0 A 0.864 1 0 1 0 -0.864 0 Z","size":66049,"filled":false,"color":"#FF0000","strokeWidth":2.5,"opacity":1},
"encoding":{"x":{"field":"t","type":"quantitative","axis":null},"y":{"field":"v","type":"quantitative","scale":{"type":"log","domain":[1e-12,1],"nice":false},"axis":null}}},
{"data":{"name":"ell2"},
"mark":{"type":"point","shape":"M -1 0 A 1 0.593 0 1 0 1 0 A 1 0.593 0 1 0 -1 0 Z","size":66564,"filled":false,"color":"#FF0000","strokeWidth":2.5,"opacity":1},
"encoding":{"x":{"field":"t","type":"quantitative","axis":null},"y":{"field":"v","type":"quantitative","scale":{"type":"log","domain":[1e-12,1],"nice":false},"axis":null}}}
],
"resolve":{"scale":{"y":"independent"},"axis":{"x":"independent","y":"independent"}}
}
